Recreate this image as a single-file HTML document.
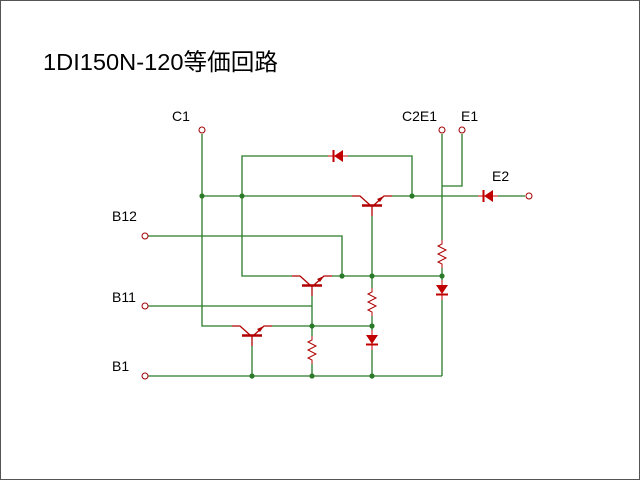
<!DOCTYPE html>
<html><head><meta charset="utf-8"><style>
html,body{margin:0;padding:0;background:#fff}
svg{display:block}
text{font-family:"Liberation Sans","Noto Sans CJK JP",sans-serif;fill:#000}
</style></head><body>
<svg width="640" height="480" viewBox="0 0 640 480" xmlns="http://www.w3.org/2000/svg">
<defs>
<g id="npn">
 <path d="M-20 0H-12L-2 9M2 9L12 0H20" stroke="#b00000" stroke-width="1.3" fill="none"/>
 <path d="M-10 9.5H10" stroke="#b00000" stroke-width="2.5"/>
 <path d="M12 0L5 3L8 6Z" fill="#b00000"/>
 <path d="M0 10V20" stroke="#b00000" stroke-width="1.3"/>
</g>
<g id="res">
 <path d="M0 -14V-10L-4 -8L4 -4L-4 0L4 4L-4 8L0 10V14" stroke="#b00000" stroke-width="1" fill="none"/>
</g>
<g id="dd">
 <path d="M-6 -5H6L0 4Z" fill="#c00000"/><path d="M-6 4.5H6" stroke="#c00000" stroke-width="2"/>
 <path d="M0 -10V10" stroke="#c00000" stroke-width="1"/>
</g>
<g id="dl">
 <path d="M5 -6V6L-4 0Z" fill="#c00000"/><path d="M-4.5 -6V6" stroke="#c00000" stroke-width="2"/>
 <path d="M-10 0H10" stroke="#c00000" stroke-width="1"/>
</g>
</defs>
<rect x="0.5" y="0.5" width="639" height="479" fill="#fff" stroke="#555" stroke-width="1"/>
<text x="43" y="70" font-size="23.5" textLength="235" lengthAdjust="spacingAndGlyphs">1DI150N-120等価回路</text>
<g font-size="14">
<text x="172" y="121">C1</text>
<text x="402" y="121">C2E1</text>
<text x="461" y="121">E1</text>
<text x="492" y="181">E2</text>
<text x="112" y="221">B12</text>
<text x="112" y="302">B11</text>
<text x="112" y="371">B1</text>
</g>
<g stroke="#2a7a2a" stroke-width="1.3" fill="none">
 <path d="M202 134V326H232"/>
 <path d="M202 196H352M392 196H478M498 196H525"/>
 <path d="M242 196V156H328M348 156H412V196"/>
 <path d="M242 196V276H292M332 276H442"/>
 <path d="M148 236H342V276"/>
 <path d="M148 306H312"/>
 <path d="M272 326H372"/>
 <path d="M148 376H442"/>
 <path d="M442 134V240M442 268V280M442 300V376"/>
 <path d="M462 134V186H442"/>
 <path d="M372 216V276V288M372 316V330M372 350V376"/>
 <path d="M312 296V326V336M312 364V376"/>
 <path d="M252 346V376"/>
</g>
<use href="#npn" x="372" y="196"/>
<use href="#npn" x="312" y="276"/>
<use href="#npn" x="252" y="326"/>
<use href="#res" x="442" y="254"/>
<use href="#res" x="372" y="302"/>
<use href="#res" x="312" y="350"/>
<use href="#dd" x="442" y="290"/>
<use href="#dd" x="372" y="340"/>
<use href="#dl" x="338" y="156"/>
<use href="#dl" x="488" y="196"/>
<g fill="#2a7a2a">
 <circle cx="202" cy="196" r="2.6"/><circle cx="242" cy="196" r="2.6"/><circle cx="412" cy="196" r="2.6"/>
 <circle cx="342" cy="276" r="2.6"/><circle cx="372" cy="276" r="2.6"/><circle cx="442" cy="276" r="2.6"/>
 <circle cx="312" cy="326" r="2.6"/><circle cx="372" cy="326" r="2.6"/>
 <circle cx="252" cy="376" r="2.6"/><circle cx="312" cy="376" r="2.6"/><circle cx="372" cy="376" r="2.6"/>
</g>
<g fill="#fff" stroke="#a00000" stroke-width="1">
 <circle cx="202" cy="130" r="3"/><circle cx="442" cy="130" r="3"/><circle cx="462" cy="130" r="3"/>
 <circle cx="529" cy="196" r="3"/>
 <circle cx="145" cy="236" r="3"/><circle cx="145" cy="306" r="3"/><circle cx="145" cy="376" r="3"/>
</g>
</svg>
</body></html>
